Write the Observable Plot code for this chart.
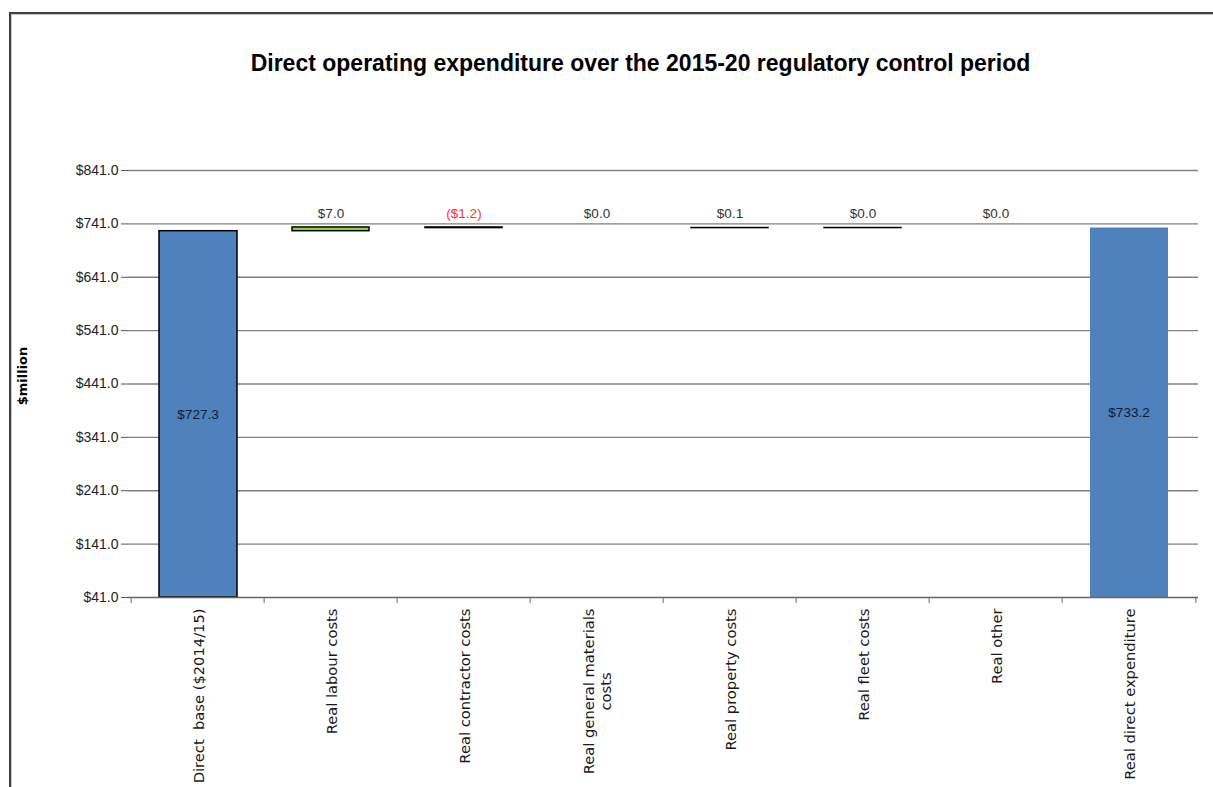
<!DOCTYPE html>
<html>
<head>
<meta charset="utf-8">
<script src="https://cdn.jsdelivr.net/npm/d3@7"></script>
<script src="https://cdn.jsdelivr.net/npm/@observablehq/plot@0.6"></script>
<style>
  html, body { margin: 0; padding: 0; background: #fff; }
  #wrap { position: relative; width: 1213px; height: 787px; overflow: hidden; }
  #border { position: absolute; left: 9px; top: 12px; right: 0; bottom: 0;
            border-left: 2px solid #404040; border-top: 2px solid #404040; pointer-events: none; }
  #border2 { position: absolute; left: 11px; top: 14px; right: 0; bottom: 0;
            border-left: 1px solid #c8c8c8; border-top: 1px solid #c8c8c8; pointer-events: none; }
  #chart { position: absolute; left: 0; top: 0; }
</style>
</head>
<body>
<div id="wrap"><div id="chart"></div><div id="border"></div><div id="border2"></div></div>
<script>
const titleText = "Direct operating expenditure over the 2015-20 regulatory control period";
const yLabel = "$million";
const categories = [
  "Direct  base ($2014/15)",
  "Real labour costs",
  "Real contractor costs",
  "Real general materials\ncosts",
  "Real property costs",
  "Real fleet costs",
  "Real other",
  "Real direct expenditure"
];
const values = [727.3, 7.0, -1.2, 0.0, 0.1, 0.04, 0.0, 733.2];
const kinds = ["total", "delta", "delta", "delta", "delta", "delta", "delta", "total"];
const yTicks = [41, 141, 241, 341, 441, 541, 641, 741, 841];

const W = 1213, H = 787;
const mL = 128, mR = 15, mT = 170, mB = 190;
const step = (W - mL - mR) / categories.length;
const yMin = yTicks[0], yMax = yTicks[yTicks.length - 1];
const labelLevel = 760;
const catFont = 14.7;

let cum = 0;
const rows = categories.map((c, i) => {
  const v = values[i];
  if (kinds[i] === "total") { cum = v; return {c, v, i, kind: "total", y1: yMin, y2: v}; }
  const y1 = cum; cum += v;
  return {c, v, i, kind: "delta", y1, y2: cum};
});
const totals = rows.filter(d => d.kind === "total");
const deltas = rows.filter(d => d.kind === "delta");

const fmt = v => v < 0 ? `($${Math.abs(v).toFixed(1)})` : `$${v.toFixed(1)}`;

// measure category label widths for top-anchored rotated blocks
const ctx = document.createElement("canvas").getContext("2d");
ctx.font = `${catFont}px 'DejaVu Sans'`;
const labelW = categories.map(c => Math.max(...c.split("\n").map(s => ctx.measureText(s).width)));

const catMarks = categories.map((c, i) => Plot.text([c], {
  x: d => d, frameAnchor: "bottom", rotate: -90, textAnchor: "middle", lineAnchor: "middle",
  lineHeight: 1.17, dy: 11 + labelW[i] / 2, fontSize: catFont, fontFamily: "DejaVu Sans", fill: "#1a1a1a"
}));

const chart = Plot.plot({
  width: W, height: H,
  marginLeft: mL, marginRight: mR, marginTop: mT, marginBottom: mB,
  x: {type: "band", domain: categories, padding: 0, axis: null},
  y: {domain: [yMin, yMax], axis: null},
  style: {fontFamily: "'Liberation Sans', Arial, sans-serif", background: "transparent", overflow: "visible", color: "#222"},
  marks: [
    Plot.gridY(yTicks.slice(1), {stroke: "#7f7f7f", strokeOpacity: 1, strokeWidth: 1.3}),
    Plot.axisY(yTicks, {tickSize: 7, tickPadding: 3, stroke: "#555", fontSize: 14, fill: "#222",
      tickFormat: d => `$${d.toFixed(1)}`, label: null}),
    Plot.barY(totals, {x: "c", y1: "y1", y2: "y2", fill: "#4f81bd",
      stroke: d => d.i === 0 ? "#000" : "none", strokeWidth: 1.5, insetLeft: 28, insetRight: 27}),
    Plot.barY(deltas.filter(d => d.v !== 0), {x: "c", y1: "y1", y2: "y2",
      fill: d => d.v < 0 ? "#ff0000" : "#92d83a", stroke: "#000", strokeWidth: 1.5, insetLeft: 28, insetRight: 28}),
    Plot.ruleY([yMin], {stroke: "#666", strokeWidth: 1.3}),
    Plot.axisX(categories, {tickSize: 6, dx: -step / 2, stroke: "#666", text: null, label: null}),
    Plot.axisX([categories[categories.length - 1]], {tickSize: 6, dx: step / 2, stroke: "#666", text: null, label: null}),
    Plot.text(totals, {x: "c", y: d => (yMin + d.v) / 2, text: d => fmt(d.v), fontSize: 13.5, fill: "#0d1a2b"}),
    Plot.text(deltas, {x: "c", y: () => labelLevel, text: d => fmt(d.v), fontSize: 13.5,
      fill: d => d.v < 0 ? "#ff3333" : "#333333"}),
    ...catMarks,
    Plot.text([titleText], {frameAnchor: "top", lineAnchor: "middle", dx: 640 - (mL + (W - mL - mR) / 2), dy: 63 - mT,
      fontSize: 23, fontWeight: "bold", fontFamily: "'Liberation Sans Narrow', 'Liberation Sans', sans-serif", fill: "#000"}),
    Plot.text([yLabel], {frameAnchor: "left", rotate: -90, textAnchor: "middle", lineAnchor: "middle", dx: 22 - mL, dy: -8,
      fontSize: 13, fontWeight: "bold", fontFamily: "DejaVu Sans", fill: "#000"})
  ]
});
document.getElementById("chart").appendChild(chart);
</script>
</body>
</html>
